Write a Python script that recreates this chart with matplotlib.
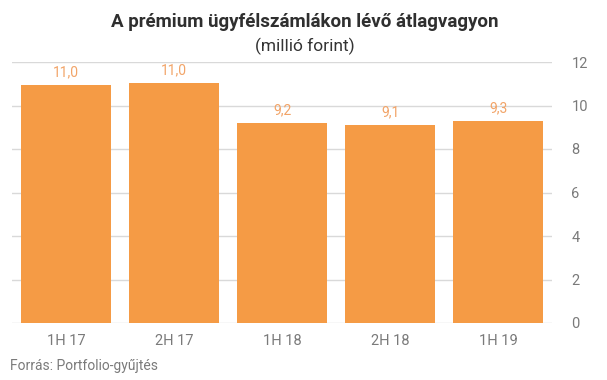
import matplotlib
matplotlib.use("Agg")
import matplotlib.pyplot as plt

categories = ["1H 17", "2H 17", "1H 18", "2H 18", "1H 19"]
values = [10.96, 11.04, 9.2, 9.1, 9.3]
value_labels = ["11,0", "11,0", "9,2", "9,1", "9,3"]
yticks = [0, 2, 4, 6, 8, 10, 12]

plt.rcParams['font.family'] = ['Roboto', 'DejaVu Sans']

fig = plt.figure(figsize=(6.07, 3.80), dpi=100)
ax = fig.add_axes([12/607, 1-323/380, 540/607, 261/380])

bar_color = "#F59B45"
text_grey = "#7a7a7a"
x = list(range(len(categories)))
ax.bar(x, values, width=0.83, color=bar_color, zorder=3)
for xi, v, lab in zip(x, values, value_labels):
    ax.text(xi, v + 0.25, lab, ha="center", va="bottom", color="#F2A468", fontsize=10)

ax.set_xlim(-0.5, 4.5)
ax.set_ylim(0, 12)
ax.set_yticks(yticks)
ax.yaxis.tick_right()
ax.tick_params(axis="y", length=0, pad=14, labelcolor=text_grey, labelsize=10.5)
ax.set_xticks(x)
ax.set_xticklabels(categories)
ax.tick_params(axis="x", length=0, pad=8, labelcolor=text_grey, labelsize=10.5)
ax.grid(axis="y", color="#d9d9d9", linewidth=1, zorder=0)
for s in ax.spines.values():
    s.set_visible(False)

fig.text(305/607, 1-22/380, "A prémium ügyfélszámlákon lévő átlagvagyon", ha="center", va="center",
         fontsize=13.5, fontweight="bold", color="#2f2f2f")
fig.text(305/607, 1-46/380, "(millió forint)", ha="center", va="center",
         fontsize=12.5, color="#333333")
fig.text(10/607, 1-366/380, "Forrás: Portfolio-gyűjtés", ha="left", va="center",
         fontsize=10, color=text_grey)

fig.savefig("out.png", dpi=100)
